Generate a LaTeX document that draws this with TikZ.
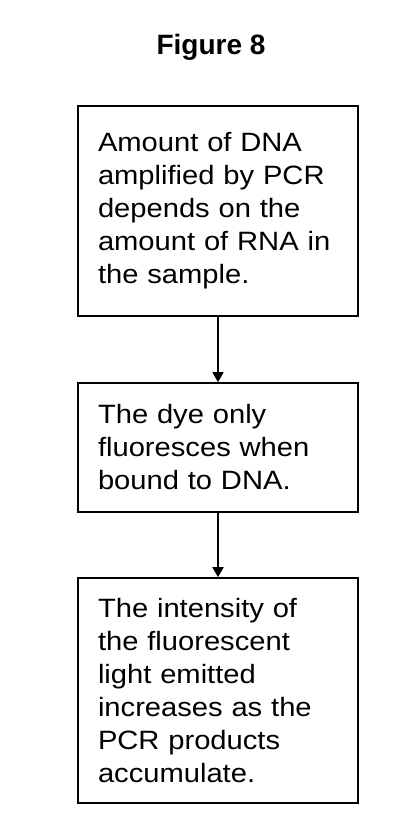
\documentclass[tikz,border=0pt]{standalone}
\usepackage{fontspec}
\setmainfont{Liberation Sans}[FakeStretch=1.1]
\newfontfamily\titlefont{Liberation Sans}
\usetikzlibrary{arrows.meta}

\begin{document}
\begin{tikzpicture}[x=1pt, y=1pt,
                    box/.style={draw, line width=1.6pt, text width=240pt,
                                inner xsep=20pt, inner ysep=0pt, align=left,
                                font=\fontsize{26.5}{33}\selectfont},
                    edge from parent/.style={draw, line width=1.6pt,
                                -{Triangle[length=10pt, width=11pt]}},
                    level 1/.style={level distance=236.5pt},
                    level 2/.style={level distance=243pt}]
  \useasboundingbox (0,0) rectangle (400,-832);
  \node[anchor=base, font=\titlefont\bfseries\fontsize{28}{34}\selectfont]
    (title) at (211,-55) {Figure 8};
  \node[box, minimum height=210pt] (amount) at (218,-211)
    {Amount of DNA\\amplified by PCR\\depends on the\\amount of RNA in\\the sample.}
    child {
      node[box, minimum height=129pt] (dye)
        {The dye only\\fluoresces when\\bound to DNA.}
      child {
        node[box, minimum height=225pt] (light)
          {The intensity of\\the fluorescent\\light emitted\\increases as the\\PCR products\\accumulate.}
      }
    };
\end{tikzpicture}
\end{document}
